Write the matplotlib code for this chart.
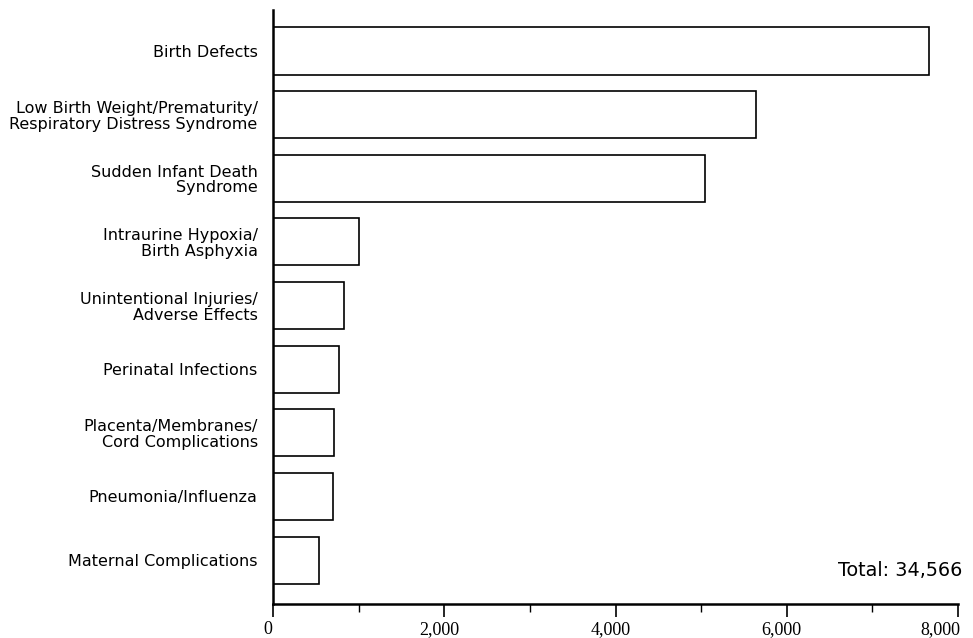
import matplotlib
matplotlib.use("Agg")
import matplotlib.pyplot as plt
import matplotlib.transforms as mtransforms
from matplotlib.ticker import MultipleLocator, FuncFormatter

# causes, top to bottom
causes = [
    "Birth Defects",
    "Low Birth Weight/Prematurity/\nRespiratory Distress Syndrome",
    "Sudden Infant Death\nSyndrome",
    "Intraurine Hypoxia/\nBirth Asphyxia",
    "Unintentional Injuries/\nAdverse Effects",
    "Perinatal Infections",
    "Placenta/Membranes/\nCord Complications",
    "Pneumonia/Influenza",
    "Maternal Complications",
]
deaths = [7660, 5640, 5050, 1005, 825, 770, 715, 705, 540]
total_text = "Total: 34,566"
x_ticks = [0, 2000, 4000, 6000, 8000]

fig = plt.figure(figsize=(9.73, 6.38), dpi=100)
ax = fig.add_axes([273/973, 1 - 604/638, (958 - 273)/973, (604 - 10)/638])

pos = list(range(len(causes)))
ax.barh(pos, deaths, height=0.74, color="white", edgecolor="black", linewidth=1.2)

ax.set_xlim(0, 8000)
ax.set_ylim(len(causes) - 1 + 0.69, -0.645)

for s in ["top", "right"]:
    ax.spines[s].set_visible(False)
for s in ["left", "bottom"]:
    ax.spines[s].set_linewidth(1.8)

ax.set_xticks(x_ticks)
ax.xaxis.set_minor_locator(MultipleLocator(1000))
ax.xaxis.set_major_formatter(FuncFormatter(lambda v, p: f"{int(v):,}"))
ax.tick_params(axis="x", which="major", length=9, width=1.2, pad=3, direction="out")
ax.tick_params(axis="x", which="minor", length=6, width=1.0, direction="out")
xlabels = ax.get_xticklabels()
for i, lab in enumerate(xlabels):
    lab.set_fontfamily("Liberation Serif")
    lab.set_fontsize(13)
    # labels sit a little left of their ticks in the original
    shift = -18 if i == len(xlabels) - 1 else -5
    lab.set_transform(lab.get_transform() +
                      mtransforms.ScaledTranslation(shift / 100, 0, fig.dpi_scale_trans))

ax.set_yticks(pos)
ax.set_yticklabels(causes, fontsize=11.5, family="DejaVu Sans", linespacing=1.05)
ax.tick_params(axis="y", length=0, pad=11)

fig.text(962/973, 1 - 570/638, total_text, ha="right", va="center",
         fontsize=13.8, family="DejaVu Sans")

fig.savefig("out.png", dpi=100)
